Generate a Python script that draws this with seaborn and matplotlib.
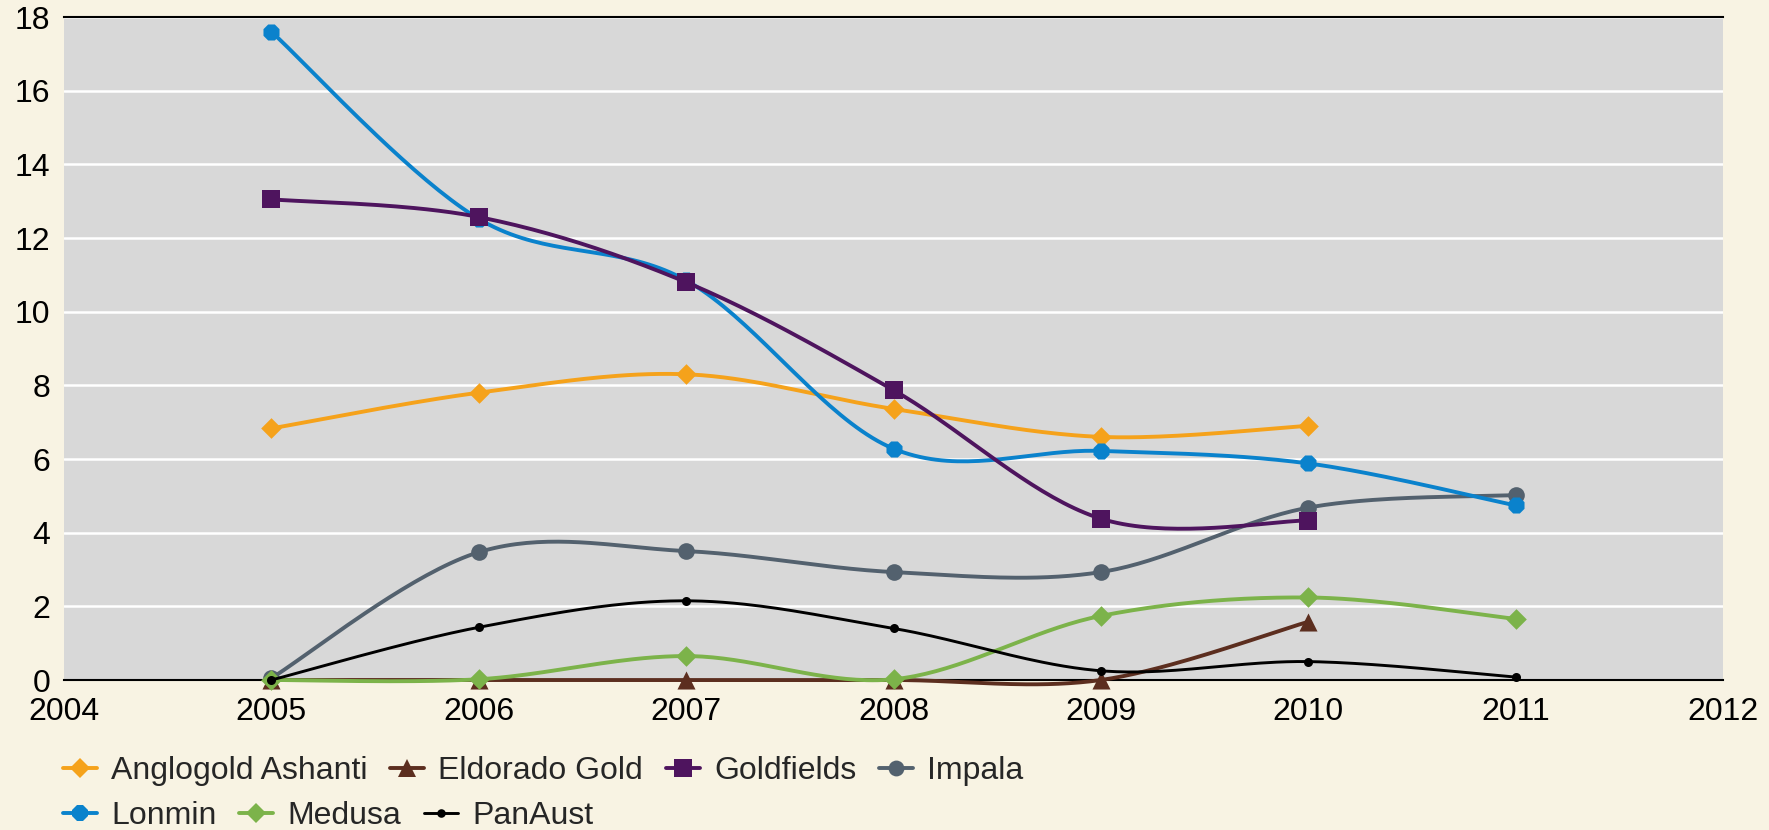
import numpy as np
import pandas as pd
import seaborn as sns
import matplotlib.pyplot as plt
from matplotlib.lines import Line2D

years = [2005, 2006, 2007, 2008, 2009, 2010, 2011]

anglogold = [6.83, 7.8, 8.3, 7.36, 6.6, 6.9, np.nan]
eldorado = [0.0, 0.0, 0.0, 0.0, 0.0, 1.58, np.nan]
goldfields = [13.05, 12.57, 10.8, 7.87, 4.38, 4.33, np.nan]
impala = [0.05, 3.47, 3.5, 2.93, 2.93, 4.68, 5.02]
lonmin = [17.6, 12.52, 10.85, 6.28, 6.22, 5.88, 4.74]
medusa = [0.0, 0.02, 0.65, 0.02, 1.74, 2.24, 1.66]
panaust = [0.0, 1.43, 2.15, 1.4, 0.25, 0.5, 0.08]

names = ["Anglogold Ashanti", "Eldorado Gold", "Goldfields", "Impala",
         "Lonmin", "Medusa", "PanAust"]

BG = "#F8F3E3"
PLOT_BG = "#D8D8D8"

# name -> (values, colour, marker, markersize, linewidth, zorder)
styles = {
    "Anglogold Ashanti": (anglogold, "#F5A21B", "D", 10.5, 2.8, 3),
    "Eldorado Gold": (eldorado, "#5C2E1F", "^", 13.0, 2.8, 4),
    "Goldfields": (goldfields, "#4E145E", "s", 13.0, 2.8, 9),
    "Impala": (impala, "#53616E", "o", 12.0, 2.8, 5),
    "Lonmin": (lonmin, "#0A82CC", "8", 12.5, 2.8, 6),
    "Medusa": (medusa, "#7CB34A", "D", 10.5, 2.8, 7),
    "PanAust": (panaust, "#000000", "o", 6.5, 2.1, 8),
}


def smooth(x, y, n=40):
    # Excel-like smoothed line (Catmull-Rom as cubic Bezier)
    p = np.column_stack([x, y]).astype(float)
    out = []
    for i in range(len(p) - 1):
        p0 = p[i - 1] if i > 0 else p[i]
        p1, p2 = p[i], p[i + 1]
        p3 = p[i + 2] if i + 2 < len(p) else p[i + 1]
        c1 = p1 + (p2 - p0) / 6
        c2 = p2 - (p3 - p1) / 6
        t = np.linspace(0, 1, n)[:, None]
        seg = ((1 - t) ** 3) * p1 + 3 * ((1 - t) ** 2) * t * c1 \
            + 3 * (1 - t) * t ** 2 * c2 + t ** 3 * p2
        out.append(seg if i == 0 else seg[1:])
    out = np.vstack(out)
    return out[:, 0], out[:, 1]


sns.set_style("white", {"axes.facecolor": PLOT_BG, "figure.facecolor": BG})
plt.rcParams["font.family"] = ["Liberation Sans", "DejaVu Sans"]

fig = plt.figure(figsize=(17.69, 8.30), dpi=100)
fig.patch.set_facecolor(BG)
ax = fig.add_axes([64 / 1769, 1 - 680 / 830, (1723 - 64) / 1769, (680 - 17) / 830])
ax.set_facecolor(PLOT_BG)

handles = {}
for name in names:
    vals, color, marker, ms, lw, z = styles[name]
    df = pd.DataFrame({"year": years, "value": vals}).dropna()
    sx, sy = smooth(df["year"].values, df["value"].values)
    sns.lineplot(x=sx, y=sy, ax=ax, color=color, linewidth=lw, sort=False,
                 estimator=None, zorder=z, clip_on=False)
    sns.scatterplot(data=df, x="year", y="value", ax=ax, color=color,
                    marker=marker, s=ms ** 2, linewidth=0, zorder=z + 0.5,
                    clip_on=False)
    handles[name] = Line2D([], [], color=color, linewidth=lw, marker=marker,
                           markersize=ms * 0.95, markeredgewidth=0)

ax.set_xlim(2004, 2012)
ax.set_ylim(0, 18)
ax.set_xticks(range(2004, 2013))
ax.set_yticks(range(0, 19, 2))
ax.set_xlabel("")
ax.set_ylabel("")
ax.grid(axis="y", color="white", linewidth=1.8)
ax.grid(axis="x", visible=False)
ax.set_axisbelow(True)

for side in ["left", "right"]:
    ax.spines[side].set_visible(False)
for side in ["top", "bottom"]:
    ax.spines[side].set_visible(True)
    ax.spines[side].set_color("black")
    ax.spines[side].set_linewidth(1.5)

ax.tick_params(axis="x", length=8, width=1.5, color="black", pad=4,
               labelsize=23, labelcolor="black", direction="out")
ax.tick_params(axis="y", length=0, pad=10, labelsize=23, labelcolor="black")

row1 = names[:4]
row2 = names[4:]
leg_kw = dict(frameon=False, fontsize=23, handlelength=1.05,
              handletextpad=0.45, columnspacing=0.72, borderpad=0,
              borderaxespad=0, loc="center left",
              bbox_transform=fig.transFigure)
leg1 = fig.legend([handles[n] for n in row1], row1, ncol=4,
                  bbox_to_anchor=(63 / 1769, 1 - 771 / 830), **leg_kw)
leg2 = fig.legend([handles[n] for n in row2], row2, ncol=3,
                  bbox_to_anchor=(63 / 1769, 1 - 816 / 830), **leg_kw)

fig.savefig("out.png", dpi=100, facecolor=BG)
